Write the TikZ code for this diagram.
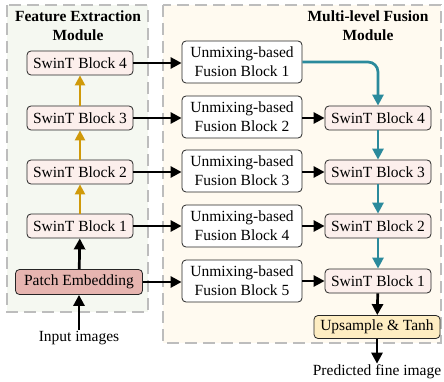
\documentclass[tikz,border=0pt]{standalone}
\usepackage{fontspec}
\setmainfont{Liberation Serif}
\usetikzlibrary{arrows.meta}
\definecolor{leftbg}{HTML}{F5F8F1}
\definecolor{rightbg}{HTML}{FFFAF0}
\definecolor{panelline}{HTML}{BDBDBD}
\definecolor{swinfill}{HTML}{FCEFEC}
\definecolor{patchfill}{HTML}{E6B5B0}
\definecolor{upfill}{HTML}{FEEDC2}
\definecolor{goldarr}{HTML}{D09A0A}
\definecolor{tealarr}{HTML}{2B8A9C}
\begin{document}
\begin{tikzpicture}[x=1pt,y=-1pt,
  font=\fontsize{15.5}{19}\selectfont,
  panel/.style={draw=panelline, line width=2pt, dash pattern=on 12pt off 6pt},
  blk/.style={draw=black!85, rounded corners=4pt, line width=0.8pt, inner sep=0pt, align=center},
  swin/.style={blk, fill=swinfill, minimum width=106pt, minimum height=24pt},
  fus/.style={blk, fill=white, minimum width=120pt, minimum height=42pt},
  arr/.style={line width=2.7pt, -{Triangle[length=11pt,width=11pt]}},
  garr/.style={line width=2.3pt, goldarr, -{Triangle[length=10pt,width=10pt]}},
  title/.style={font=\fontsize{15.5}{19}\selectfont\bfseries, align=center}
]
\useasboundingbox (0,0) rectangle (444,382);
\draw[panel, fill=leftbg] (7,5) rectangle (148,312);
\draw[panel, fill=rightbg] (163,5) rectangle (441,343);
\node[title] (t1) at (78,26) {Feature Extraction\\Module};
\node[title] (t2) at (368,26) {Multi-level Fusion\\Module};
% left column
\node[swin] (l4) at (80,63) {SwinT Block 4};
\node[swin] (l3) at (80,118) {SwinT Block 3};
\node[swin] (l2) at (80,172) {SwinT Block 2};
\node[swin] (l1) at (80,226) {SwinT Block 1};
\node[blk, fill=patchfill, minimum width=127pt, minimum height=25pt] (pe) at (79,282) {Patch Embedding};
\node[inner sep=1pt] (in) at (79,338) {Input images};
% fusion blocks
\node[fus] (f1) at (242,62) {Unmixing-based\\Fusion Block 1};
\node[fus] (f2) at (242,117) {Unmixing-based\\Fusion Block 2};
\node[fus] (f3) at (242,171) {Unmixing-based\\Fusion Block 3};
\node[fus] (f4) at (242,226) {Unmixing-based\\Fusion Block 4};
\node[fus] (f5) at (242,281) {Unmixing-based\\Fusion Block 5};
% right column
\node[swin] (r4) at (378,118) {SwinT Block 4};
\node[swin] (r3) at (378,172) {SwinT Block 3};
\node[swin] (r2) at (378,226) {SwinT Block 2};
\node[swin] (r1) at (378,281) {SwinT Block 1};
\node[blk, fill=upfill, minimum width=126pt, minimum height=23pt] (up) at (377,327) {Upsample \& Tanh};
\node[inner sep=1pt] (out) at (377,372) {Predicted fine image};
% arrows left
\draw[arr] (in) -- (pe);
\draw[arr] (pe) -- (l1);
\draw[garr] (l1) -- (l2);
\draw[garr] (l2) -- (l3);
\draw[garr] (l3) -- (l4);
\draw[arr] (l4.east) -- (f1.west |- l4.east);
\draw[arr] (l3.east) -- (f2.west |- l3.east);
\draw[arr] (l2.east) -- (f3.west |- l2.east);
\draw[arr] (l1.east) -- (f4.west |- l1.east);
\draw[arr] (pe.east) -- (f5.west |- pe.east);
% fusion to right
\draw[arr] (f2.east |- r4.west) -- (r4.west);
\draw[arr] (f3.east |- r3.west) -- (r3.west);
\draw[arr] (f4.east |- r2.west) -- (r2.west);
\draw[arr] (f5.east |- r1.west) -- (r1.west);
\draw[arr, tealarr, rounded corners=10pt] (f1.east) -| (r4.north);
\draw[arr, tealarr] (r4) -- (r3);
\draw[arr, tealarr] (r3) -- (r2);
\draw[arr, tealarr] (r2) -- (r1);
\draw[arr] (r1) -- (up);
\draw[arr] (up) -- (out);
\end{tikzpicture}
\end{document}
